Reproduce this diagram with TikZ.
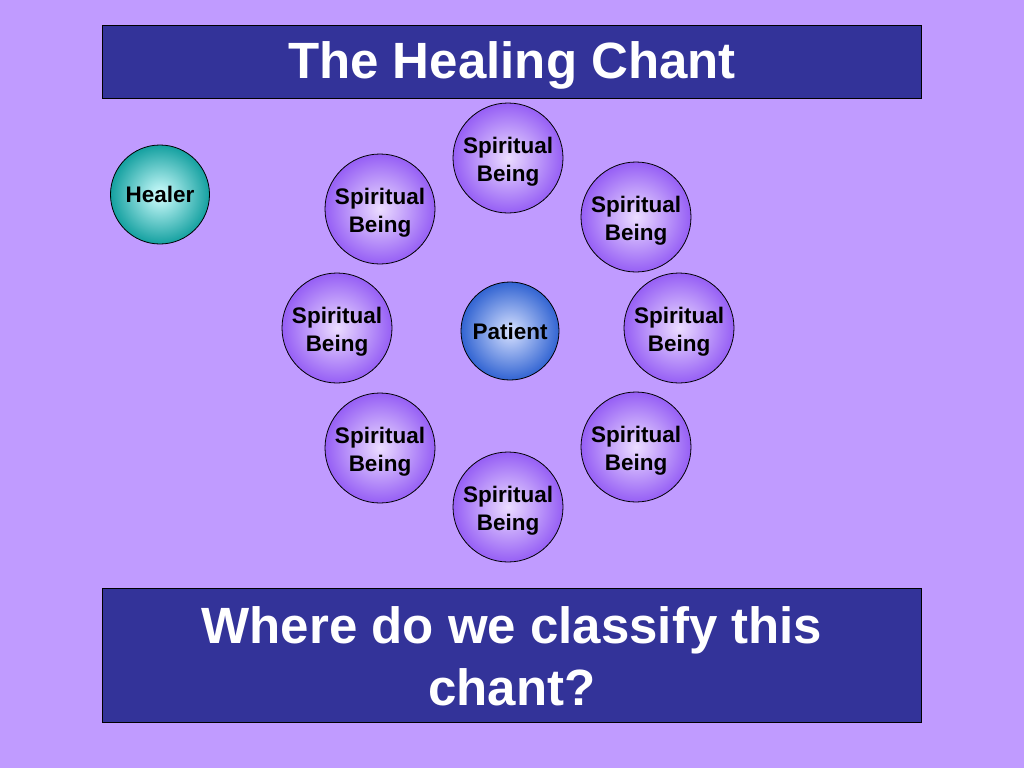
\documentclass[tikz,border=0pt]{standalone}
\usepackage{fontspec}
\setmainfont{Liberation Sans}
\definecolor{bg}{RGB}{192,155,255}
\definecolor{boxblue}{RGB}{51,51,153}
\definecolor{purpedge}{RGB}{150,95,245}
\definecolor{purpmid}{RGB}{235,220,255}
\definecolor{tealedge}{RGB}{20,160,160}
\definecolor{tealmid}{RGB}{210,255,255}
\definecolor{blueedge}{RGB}{50,100,210}
\definecolor{bluemid}{RGB}{215,225,255}
\newcommand{\spiritlabel}{\rule{0pt}{23.4pt}Spiritual\\Being}
\tikzset{
  titlebox/.style={draw=black, fill=boxblue, line width=0.8pt},
  titletext/.style={text=white, font=\bfseries\fontsize{51}{62}\selectfont, align=center, inner sep=0pt},
  circtext/.style={font=\bfseries\fontsize{22.5}{28}\selectfont},
  spirit/.style={circle, draw=black, line width=0.8pt, minimum size=110pt, inner color=purpmid, outer color=purpedge, circtext, align=center, inner sep=0pt},
  healer/.style={circle, draw=black, line width=0.8pt, minimum size=99pt, inner color=tealmid, outer color=tealedge, circtext, inner sep=0pt},
  patient/.style={circle, draw=black, line width=0.8pt, minimum size=98pt, inner color=bluemid, outer color=blueedge, circtext, inner sep=0pt}
}
\begin{document}
\begin{tikzpicture}[x=1pt,y=-1pt]
\fill[bg] (0,0) rectangle (1024,768);
\useasboundingbox (0,0) rectangle (1024,768);
\draw[titlebox] (102,25) rectangle (921,98);
\node[titletext, anchor=base] (title) at (512,78) {The Healing Chant};
\draw[titlebox] (102,588) rectangle (921,722);
\node[titletext] (question) at (512,656) {Where do we classify this\\chant?};
\node[healer] (healer) at (160,194.5) {Healer};
\node[patient] (patient) at (510,331) {Patient};
\node[spirit] (s1) at (508,158) {\spiritlabel};
\node[spirit] (s2) at (380,209) {\spiritlabel};
\node[spirit] (s3) at (636,217) {\spiritlabel};
\node[spirit] (s4) at (337,328) {\spiritlabel};
\node[spirit] (s5) at (679,328) {\spiritlabel};
\node[spirit] (s6) at (380,448) {\spiritlabel};
\node[spirit] (s7) at (636,447) {\spiritlabel};
\node[spirit] (s8) at (508,507) {\spiritlabel};
\end{tikzpicture}
\end{document}
